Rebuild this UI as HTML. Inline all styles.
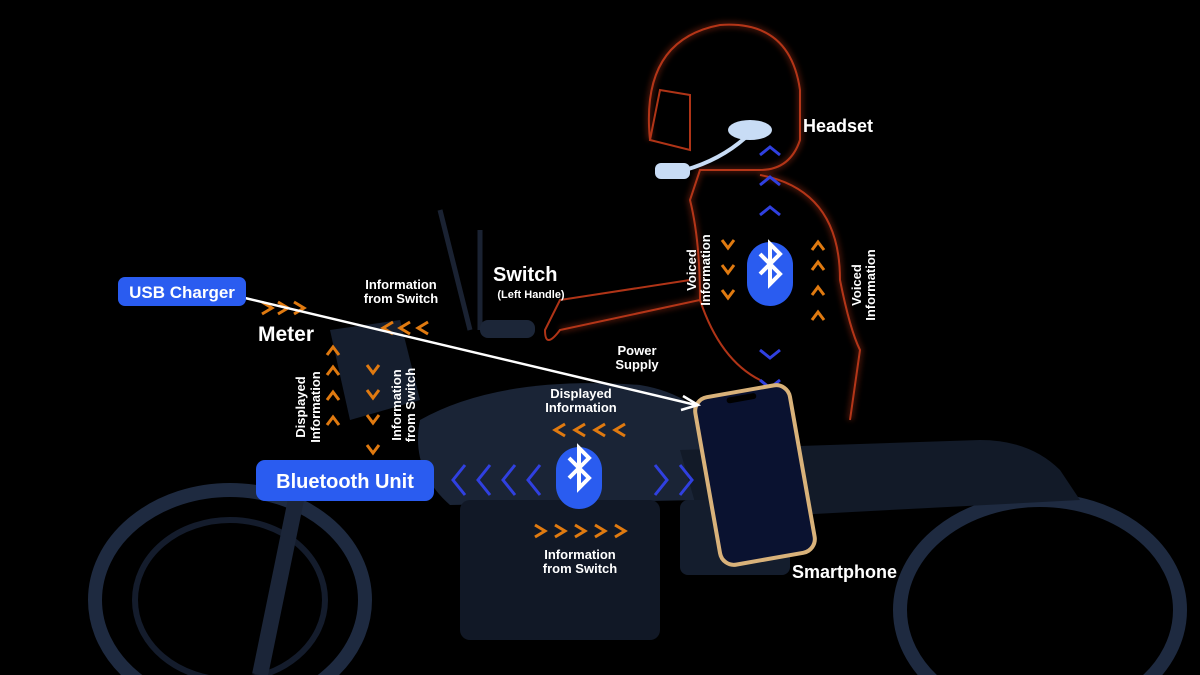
<!DOCTYPE html>
<html><head><style>
html,body{margin:0;padding:0;background:#000;width:1200px;height:675px;overflow:hidden}
svg{display:block}
text{font-family:"Liberation Sans",sans-serif;font-weight:bold;fill:#fff}
</style></head><body>
<svg width="1200" height="675" viewBox="0 0 1200 675">
<defs>
<radialGradient id="bike" cx="0.5" cy="0.5" r="0.6">
<stop offset="0" stop-color="#2a3a55"/><stop offset="1" stop-color="#0a0f1a"/>
</radialGradient>
<filter id="glow"><feGaussianBlur stdDeviation="3"/></filter>
</defs>
<rect width="1200" height="675" fill="#000"/>
<!-- motorcycle silhouette approximations -->
<ellipse cx="230" cy="600" rx="135" ry="110" fill="none" stroke="#1e2a40" stroke-width="14"/>
<ellipse cx="230" cy="600" rx="95" ry="80" fill="none" stroke="#141c2c" stroke-width="6"/>
<ellipse cx="1040" cy="610" rx="140" ry="110" fill="none" stroke="#1e2a40" stroke-width="14"/>
<path d="M420 420 Q500 375 640 385 Q700 395 720 440 L700 500 L450 505 Q410 470 420 420Z" fill="#1a2436"/>
<path d="M680 450 L980 440 Q1030 440 1060 470 L1080 500 L700 520Z" fill="#121a28"/>
<rect x="460" y="500" width="200" height="140" rx="10" fill="#111826"/>
<rect x="680" y="500" width="110" height="75" rx="8" fill="#141d2d"/>
<path d="M330 330 L400 320 L420 400 L350 420Z" fill="#151e2e"/>
<path d="M300 480 L260 675" stroke="#1b2538" stroke-width="16"/>
<path d="M440 210 L470 330 M480 230 L480 330" stroke="#1a2232" stroke-width="5"/>
<rect x="480" y="320" width="55" height="18" rx="8" fill="#1c2638"/>
<!-- rider outline -->
<g fill="none" stroke="#c23a1a" stroke-width="2" opacity="0.9">
<path d="M650 140 Q640 40 720 25 Q790 20 800 90 L800 140 Q790 170 760 170 L700 170 L690 200 Q700 240 700 300 L560 330 Q545 350 545 330 L560 300 L690 280"/>
<path d="M760 175 Q840 190 840 280 Q850 330 860 350 L850 420"/>
<path d="M700 300 Q720 360 760 380"/>
<path d="M650 140 L690 150 L690 95 L660 90Z"/>
</g>
<g fill="none" stroke="#c23a1a" stroke-width="6" opacity="0.35" filter="url(#glow)">
<path d="M650 140 Q640 40 720 25 Q790 20 800 90 L800 140 Q790 170 760 170 L700 170 L690 200 Q700 240 700 300 L560 330"/>
<path d="M760 175 Q840 190 840 280 Q850 330 860 350 L850 420"/>
</g>
<!-- headset -->
<ellipse cx="750" cy="130" rx="22" ry="10" fill="#c8dcf5"/>
<path d="M745 138 Q720 160 685 170" stroke="#c8dcf5" stroke-width="4" fill="none"/>
<rect x="655" y="163" width="35" height="16" rx="6" fill="#c8dcf5"/>
<!-- chevrons -->
<g fill="none" stroke="#e07a10" stroke-width="3">
<path d="M262 302l10 6-10 6M278 302l10 6-10 6M294 302l10 6-10 6"/>
<path d="M393 322l-10 6 10 6M410 322l-10 6 10 6M428 322l-10 6 10 6"/>
<path d="M565 424l-10 6 10 6M585 424l-10 6 10 6M605 424l-10 6 10 6M625 424l-10 6 10 6"/>
<path d="M535 525l10 6-10 6M555 525l10 6-10 6M575 525l10 6-10 6M595 525l10 6-10 6M615 525l10 6-10 6"/>
<path d="M327 355l6-8 6 8M327 375l6-8 6 8M327 400l6-8 6 8M327 425l6-8 6 8"/>
<path d="M367 365l6 8 6-8M367 390l6 8 6-8M367 415l6 8 6-8M367 445l6 8 6-8"/>
<path d="M812 250l6-8 6 8M812 270l6-8 6 8M812 295l6-8 6 8M812 320l6-8 6 8"/>
<path d="M722 240l6 8 6-8M722 265l6 8 6-8M722 290l6 8 6-8"/>
</g>
<g fill="none" stroke="#3040e0" stroke-width="3">
<path d="M465 465l-12 15 12 15M490 465l-12 15 12 15M515 465l-12 15 12 15M540 465l-12 15 12 15"/>
<path d="M655 465l12 15-12 15M680 465l12 15-12 15"/>
<path d="M760 155l10-8 10 8M760 185l10-8 10 8M760 215l10-8 10 8"/>
<path d="M760 350l10 8 10-8M760 380l10 8 10-8"/>
</g>
<!-- bluetooth icons -->
<g>
<rect x="747" y="242" width="46" height="64" rx="23" fill="#2a5cf0"/>
<path d="M760 259l20 20-10 10v-40l10 10-20 20" stroke="#fff" stroke-width="4" fill="none" transform="translate(0,-5)"/>
<rect x="556" y="447" width="46" height="62" rx="23" fill="#2a5cf0"/>
<path d="M569 463l20 20-10 10v-40l10 10-20 20" stroke="#fff" stroke-width="4" fill="none" transform="translate(0,-5)"/>
</g>
<!-- phone -->
<g transform="rotate(-10 755 475)">
<rect x="707" y="390" width="96" height="170" rx="14" fill="#0a1230" stroke="#d9b27a" stroke-width="4"/>
<rect x="740" y="394" width="30" height="6" rx="3" fill="#000"/>
</g>
<!-- arrow line -->
<line x1="245" y1="298" x2="696" y2="405" stroke="#fff" stroke-width="2.5"/>
<path d="M683 396 L698 405 L681 410" fill="none" stroke="#fff" stroke-width="2.5"/>
<!-- labels -->
<rect x="118" y="277" width="128" height="29" rx="7" fill="#2a5cf0"/>
<text x="182" y="298" font-size="17" text-anchor="middle" font-weight="normal">USB Charger</text>
<rect x="256" y="460" width="178" height="41" rx="9" fill="#2a5cf0"/>
<text x="345" y="488" font-size="20" text-anchor="middle">Bluetooth Unit</text>
<text x="803" y="132" font-size="18">Headset</text>
<text x="493" y="281" font-size="20">Switch</text>
<text x="531" y="298" font-size="11" text-anchor="middle">(Left Handle)</text>
<text x="258" y="341" font-size="21">Meter</text>
<text x="401" y="289" font-size="13" text-anchor="middle">Information</text>
<text x="401" y="303" font-size="13" text-anchor="middle">from Switch</text>
<text x="637" y="355" font-size="13" text-anchor="middle">Power</text>
<text x="637" y="369" font-size="13" text-anchor="middle">Supply</text>
<text x="581" y="398" font-size="13" text-anchor="middle">Displayed</text>
<text x="581" y="412" font-size="13" text-anchor="middle">Information</text>
<text x="580" y="559" font-size="13" text-anchor="middle">Information</text>
<text x="580" y="573" font-size="13" text-anchor="middle">from Switch</text>
<text x="792" y="578" font-size="18">Smartphone</text>
<text transform="translate(305,407) rotate(-90)" font-size="13" text-anchor="middle">Displayed</text>
<text transform="translate(320,407) rotate(-90)" font-size="13" text-anchor="middle">Information</text>
<text transform="translate(401,405) rotate(-90)" font-size="13" text-anchor="middle">Information</text>
<text transform="translate(415,405) rotate(-90)" font-size="13" text-anchor="middle">from Switch</text>
<text transform="translate(696,270) rotate(-90)" font-size="13" text-anchor="middle">Voiced</text>
<text transform="translate(710,270) rotate(-90)" font-size="13" text-anchor="middle">Information</text>
<text transform="translate(861,285) rotate(-90)" font-size="13" text-anchor="middle">Voiced</text>
<text transform="translate(875,285) rotate(-90)" font-size="13" text-anchor="middle">Information</text>
</svg>
</body></html>
